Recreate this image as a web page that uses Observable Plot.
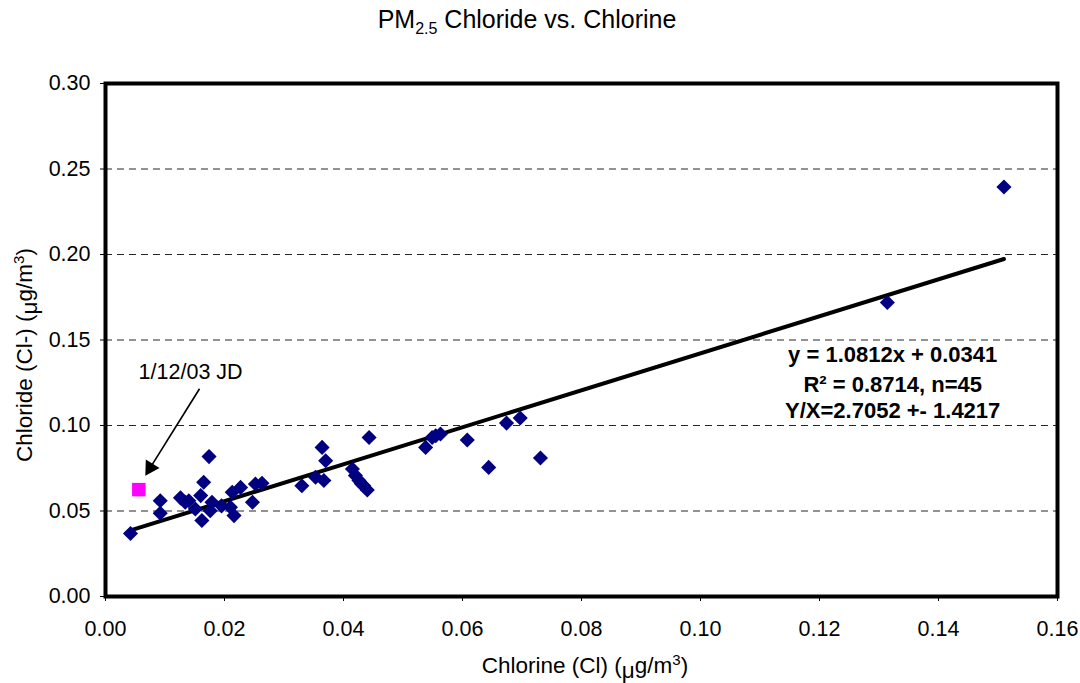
<!DOCTYPE html>
<html>
<head>
<meta charset="utf-8">
<script src="https://cdn.jsdelivr.net/npm/d3@7"></script>
<script src="https://cdn.jsdelivr.net/npm/@observablehq/plot@0.6"></script>
<style>
  body { margin: 0; background: #fff; font-family: "Liberation Sans", Arial, sans-serif; }
  #title { height: 50px; width: 1080px; text-align: center; font-size: 25px; line-height: 25px; padding-top: 7px; box-sizing: border-box; }
  #title span.inner { position: relative; left: -13px; }
</style>
</head>
<body>
<div id="title"><span class="inner">PM<sub style="font-size:16px">2.5</sub> Chloride vs. Chlorine</span></div>
<div id="chart"></div>
<script>
// Chlorine (Cl) µg/m3
const chlorine = [0.0042, 0.0092, 0.0092, 0.0174, 0.0126, 0.0134, 0.0151, 0.0160, 0.0165, 0.0162,
  0.0179, 0.0176, 0.0213, 0.0227, 0.0210, 0.0216, 0.0247, 0.0252, 0.0263, 0.0140, 0.0195,
  0.0330, 0.0353, 0.0367, 0.0364, 0.0370, 0.0415, 0.0420, 0.0426, 0.0434, 0.0440, 0.0443,
  0.0538, 0.0549, 0.0563, 0.0555, 0.0608, 0.0644, 0.0674, 0.0697, 0.0731, 0.0430,
  0.1314, 0.1510];
// Chloride (Cl-) µg/m3
const chloride = [0.0368, 0.0560, 0.0487, 0.0818, 0.0577, 0.0551, 0.0512, 0.0590, 0.0668, 0.0444,
  0.0551, 0.0502, 0.0610, 0.0638, 0.0522, 0.0473, 0.0551, 0.0658, 0.0662, 0.0560, 0.0530,
  0.0648, 0.0697, 0.0678, 0.0872, 0.0794, 0.0746, 0.0707, 0.0678, 0.0648, 0.0623, 0.0930,
  0.0872, 0.0930, 0.0950, 0.0940, 0.0915, 0.0755, 0.1014, 0.1044, 0.0810, 0.0660,
  0.1719, 0.2395];
// Highlighted sample 1/12/03 JD
const outlierX = [0.0056];
const outlierY = [0.0625];
// Regression
const slope = 1.0812, intercept = 0.0341;
const fitLabels = ["y = 1.0812x + 0.0341", "R² = 0.8714, n=45", "Y/X=2.7052 +- 1.4217"];
const fitLabelY = [0.1414, 0.1235, 0.1086];
const fitLabelX = 0.1323;
// Annotation
const noteText = "1/12/03 JD";
const noteXY = [0.0143, 0.1314];
const arrowFrom = [0.0158, 0.1215];
const arrowTo = [0.0067, 0.0707];
// Ticks
const xTicks = [0, 0.02, 0.04, 0.06, 0.08, 0.10, 0.12, 0.14, 0.16];
const yTicks = [0, 0.05, 0.10, 0.15, 0.20, 0.25, 0.30];

const pts = chlorine.map((x, i) => ({x, y: chloride[i]}));
const outl = outlierX.map((x, i) => ({x, y: outlierY[i]}));
const xmin = d3.min(chlorine), xmax = d3.max(chlorine);
const fitLine = [xmin, xmax].map(x => ({x, y: slope * x + intercept}));
const fitText = fitLabels.map((t, i) => ({t, y: fitLabelY[i]}));
// arrow head sits just behind the tip, pointing along the shaft
const tHead = 0.09;
const head = [{
  x: arrowTo[0] + tHead * (arrowFrom[0] - arrowTo[0]),
  y: arrowTo[1] + tHead * (arrowFrom[1] - arrowTo[1])
}];
const shaftEnd = [arrowTo[0] + 0.12 * (arrowFrom[0] - arrowTo[0]), arrowTo[1] + 0.12 * (arrowFrom[1] - arrowTo[1])];

const chart = Plot.plot({
  width: 1080,
  height: 633,
  marginLeft: 105,
  marginRight: 23,
  marginTop: 33,
  marginBottom: 87,
  style: { fontFamily: "'Liberation Sans', Arial, sans-serif", fontSize: "21px", color: "#000", background: "#fff" },
  x: { domain: [0, 0.16] },
  y: { domain: [0, 0.30] },
  marks: [
    Plot.ruleY(yTicks.slice(1, -1), { stroke: "#000", strokeDasharray: "7,5", strokeWidth: 1, strokeOpacity: 0.85 }),
    Plot.axisX({ ticks: xTicks, tickFormat: d3.format(".2f"), label: null, tickSize: 5, tickPadding: 19, fontSize: 21.5 }),
    Plot.axisY({ ticks: yTicks, tickFormat: d3.format(".2f"), label: null, tickSize: 5, tickPadding: 10, fontSize: 21.5 }),
    Plot.line(fitLine, { x: "x", y: "y", stroke: "#000", strokeWidth: 4, strokeLinecap: "round" }),
    Plot.dot(pts, { x: "x", y: "y", symbol: "diamond2", r: 6.8, fill: "#000080", stroke: "none" }),
    Plot.dot(outl, { x: "x", y: "y", symbol: "square", r: 7.6, fill: "#ff00ff", stroke: "none" }),
    Plot.text(fitText, { x: () => fitLabelX, y: "y", text: "t", fontWeight: "bold", fontSize: 22, fill: "#000" }),
    Plot.text([noteText], { x: () => noteXY[0], y: () => noteXY[1], text: d => d, fontSize: 21.5, fill: "#000" }),
    Plot.link([0], { x1: () => arrowFrom[0], y1: () => arrowFrom[1], x2: () => shaftEnd[0], y2: () => shaftEnd[1], stroke: "#000", strokeWidth: 1.6 }),
    Plot.dot(head, { x: "x", y: "y", symbol: "triangle", r: 6, fill: "#000", stroke: "none", rotate: 211.8 }),
    Plot.frame({ stroke: "#000", strokeWidth: 4 })
  ]
});
document.getElementById("chart").appendChild(chart);

const svg = d3.select(chart);
// x axis label
const xl = svg.append("text").attr("x", 585).attr("y", 623).attr("text-anchor", "middle")
  .attr("font-size", 22.5).attr("fill", "#000");
xl.append("tspan").text("Chlorine (Cl) (");
xl.append("tspan").attr("dy", 5).text("μ");
xl.append("tspan").attr("dy", -5).text("g/m");
xl.append("tspan").attr("dy", -8).attr("font-size", 15).text("3");
xl.append("tspan").attr("dy", 8).text(")");
// y axis label
const yl = svg.append("text").attr("transform", "translate(32,305) rotate(-90)").attr("text-anchor", "middle")
  .attr("font-size", 22.5).attr("fill", "#000");
yl.append("tspan").text("Chloride (Cl-) (");
yl.append("tspan").attr("dy", 5).text("μ");
yl.append("tspan").attr("dy", -5).text("g/m");
yl.append("tspan").attr("dy", -8).attr("font-size", 15).text("3");
yl.append("tspan").attr("dy", 8).text(")");
</script>
</body>
</html>
